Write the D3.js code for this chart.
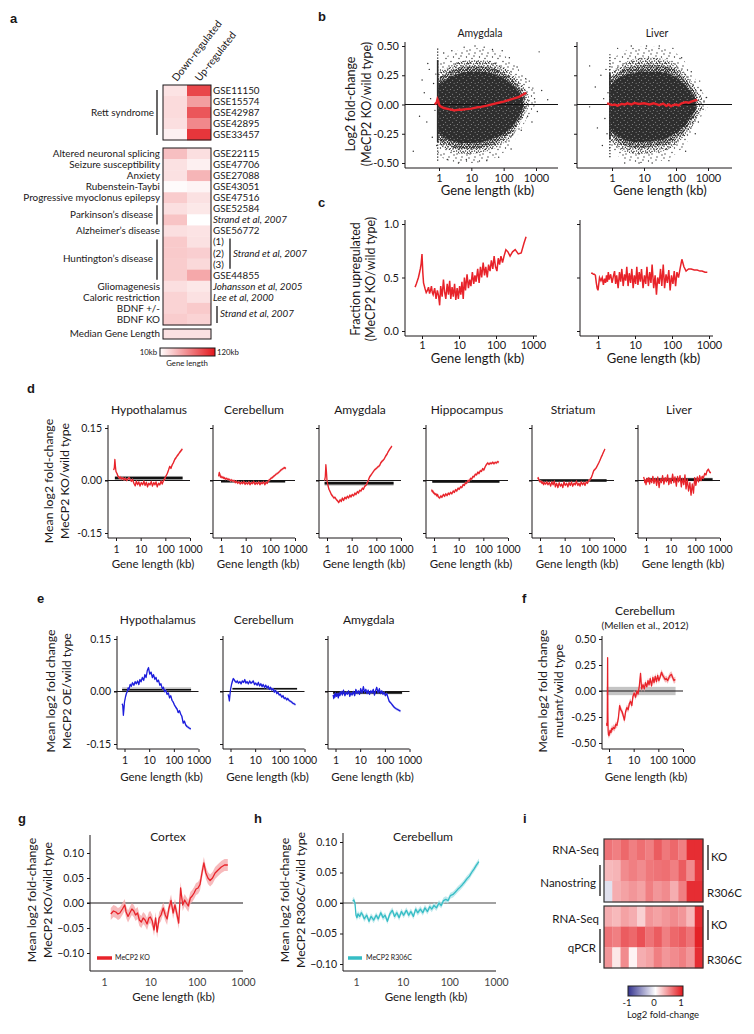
<!DOCTYPE html>
<html><head><meta charset="utf-8"><title>MeCP2 gene length effects</title>
<script src="https://cdn.jsdelivr.net/npm/d3@7"></script>
<style>html,body{margin:0;padding:0;background:#fff;}svg{display:block}</style>
</head><body><script>
// ================= DATA =================
// --- panel a ---
const aRettIds = ["GSE11150","GSE15574","GSE42987","GSE42895","GSE33457"];
const aRettDown = [23,27,27,25,17];
const aRettUp = [97,56,90,66,105];
const aRightLabels = ["GSE22115","GSE47706","GSE27088","GSE43051","GSE47516","GSE52584","Strand et al, 2007","GSE56772","(1)","(2)","(3)","GSE44855","Johansson et al, 2005","Lee et al, 2000","",""];
const aLeftLabels = ["Altered neuronal splicing","Seizure susceptibility","Anxiety","Rubenstein-Taybi","Progressive myoclonus epilepsy","","","Alzheimer\u2019s disease","","","","","Gliomagenesis","Caloric restriction","BDNF +/-","BDNF KO"];
const aDown = [40,24,24,12,34,25,38,25,35,35,34,34,25,31,31,34];
const aUp = [25,17,45,15,24,21,10,23,24,33,28,51,21,24,35,31];
const aMedian = 24;
// --- panel b (scatter density envelopes) ---
const bAmyCore = {x:[0.95,1.2,1.6,2,3,5,10,20,50,100,200,300,400], hi:[0.16,0.19,0.21,0.23,0.25,0.27,0.28,0.28,0.26,0.22,0.16,0.1,0.05], lo:[-0.24,-0.27,-0.29,-0.3,-0.32,-0.33,-0.33,-0.32,-0.29,-0.25,-0.18,-0.1,-0.03]};
const bAmyInner = {x:[0.94,1.2,2,3,5,10,20,50,100,200,300,450], hi:[0.21,0.24,0.28,0.3,0.32,0.33,0.33,0.31,0.27,0.21,0.15,0.07], lo:[-0.29,-0.32,-0.35,-0.37,-0.38,-0.38,-0.37,-0.34,-0.29,-0.22,-0.14,-0.04]};
const bAmyMid = {x:[0.93,1.2,2,3,5,10,20,50,100,200,300,500,600], hi:[0.26,0.29,0.32,0.35,0.37,0.38,0.38,0.36,0.32,0.26,0.2,0.12,0.08], lo:[-0.33,-0.36,-0.39,-0.41,-0.42,-0.42,-0.41,-0.38,-0.33,-0.26,-0.18,-0.06,-0.02]};
const bAmyFringe = {x:[0.92,1.2,2,3,5,10,20,50,100,200,400,700,1000], hi:[0.36,0.39,0.42,0.45,0.47,0.48,0.48,0.46,0.42,0.36,0.25,0.17,0.1], lo:[-0.42,-0.45,-0.48,-0.49,-0.5,-0.5,-0.49,-0.46,-0.41,-0.32,-0.18,-0.06,0.0]};
const bAmyStripe = {x:0.91, dense:[-0.32,0.38], sparse:[-0.48,0.48]};
const bAmyOut = [[0.16,-0.4],[0.3,0.21],[0.35,0.1],[0.42,-0.15],[0.5,0.3],[0.55,0.05],[0.62,-0.28],[0.68,0.18],[0.75,-0.05],[0.8,0.26],[0.85,-0.35],[1.4,0.44],[1.8,-0.47],[2.5,0.46],[4,-0.5],[6,0.49],[7,-0.47],[13,0.5],[16,-0.49],[25,0.49],[30,-0.48],[45,0.47],[70,-0.45],[90,0.46],[150,0.4],[170,-0.38],[260,0.32],[350,-0.22],[480,0.22],[550,-0.1],[800,0.14],[900,0.05],[1250,0.45],[1500,0.12],[2300,0.04],[1100,-0.06],[620,0.2],[750,-0.15],[0.25,-0.1],[0.45,0.35]];
const bLivCore = {x:[0.9,1.2,2,3,5,10,20,50,100,200,300,400], hi:[0.16,0.2,0.24,0.26,0.27,0.28,0.28,0.27,0.23,0.16,0.1,0.05], lo:[-0.2,-0.25,-0.29,-0.31,-0.32,-0.32,-0.31,-0.29,-0.24,-0.17,-0.1,-0.05]};
const bLivInner = {x:[0.88,1.2,2,3,5,10,20,50,100,200,300,450], hi:[0.2,0.25,0.29,0.32,0.33,0.34,0.34,0.33,0.29,0.21,0.15,0.07], lo:[-0.25,-0.3,-0.34,-0.36,-0.37,-0.37,-0.36,-0.34,-0.29,-0.22,-0.15,-0.07]};
const bLivMid = {x:[0.85,1.2,2,3,5,10,20,50,100,200,300,500,650], hi:[0.25,0.3,0.34,0.37,0.39,0.4,0.4,0.38,0.34,0.26,0.2,0.1,0.06], lo:[-0.3,-0.35,-0.39,-0.41,-0.42,-0.42,-0.41,-0.39,-0.34,-0.26,-0.2,-0.1,-0.05]};
const bLivFringe = {x:[0.82,1.2,2,3,5,10,20,50,100,200,400,700,1000], hi:[0.33,0.4,0.44,0.47,0.49,0.5,0.5,0.48,0.44,0.36,0.22,0.1,0.02], lo:[-0.38,-0.42,-0.46,-0.48,-0.5,-0.5,-0.49,-0.47,-0.42,-0.34,-0.2,-0.08,-0.02]};
const bLivStripe = {x:0.86, dense:[-0.3,0.27], sparse:[-0.45,0.43]};
const bLivOut = [[0.2,0.33],[0.2,-0.02],[0.3,0.15],[0.35,-0.2],[0.45,0.25],[0.5,-0.35],[0.55,0.05],[0.6,-0.12],[0.65,0.3],[0.7,-0.25],[0.75,0.1],[1.5,0.48],[2.5,-0.5],[4,0.5],[7,-0.5],[12,0.5],[18,-0.5],[30,0.5],[60,-0.48],[80,0.48],[150,0.4],[200,-0.4],[300,0.28],[400,-0.25],[600,0.12],[700,-0.04],[750,0.03],[900,0.06],[500,-0.15],[550,0.2]];
const bAmyLen = [0.75,0.85,0.9,0.95,1.0,1.1,1.2,1.4,1.7,2,2.5,3,4,5,7,10,15,20,30,50,70,100,150,200,300,400,500];
const bAmyFit = [0.0,0.02,0.045,0.03,0.0,-0.015,-0.02,-0.03,-0.035,-0.04,-0.045,-0.05,-0.045,-0.045,-0.04,-0.035,-0.025,-0.02,-0.01,0.005,0.015,0.025,0.04,0.05,0.065,0.085,0.1];
const bLivLen = [0.7,0.8,0.9,1.0,1.2,1.5,2,2.5,3,4,5,7,10,15,20,30,40,50,60,70,80,100,120,150,200,250,300,400,460];
const bLivFit = [0.01,0.005,0.0,-0.005,0.0,-0.01,0.005,0.0,0.01,0.0,0.012,0.005,0.01,0.0,0.01,-0.005,0.008,-0.012,0.0,-0.015,-0.005,0.0,-0.008,0.01,0.02,0.015,0.025,0.035,0.04];
// --- panel c ---
const lenC = [0.65,0.7,0.75,0.8,0.85,0.9,0.95,1.0,1.05,1.1,1.2,1.3,1.4,1.5,1.6,1.7,1.8,1.9,2.0,2.2,2.4,2.6,2.8,3.0,3.2,3.5,3.8,4.1,4.4,4.8,5.2,5.6,6.0,6.5,7.0,7.6,8.2,8.9,9.6,10.4,11.2,12,13,14,15,16.5,18,19.5,21,23,25,27,29,32,35,38,41,45,49,53,58,63,69,75,82,89,97,106,115,125,136,150,165,185,210,240,280,330,400,480,570,650];
const cLeft = [0.41,0.44,0.47,0.5,0.54, 0.58,0.63,0.72,0.55,0.45, 0.4,0.36,0.38,0.41,0.35, 0.38,0.42,0.36,0.34,0.4, 0.3,0.38,0.33,0.24,0.42, 0.32,0.48,0.36,0.3,0.44, 0.34,0.47,0.3,0.41,0.32, 0.44,0.29,0.4,0.3,0.42, 0.34,0.46,0.3,0.5,0.38, 0.53,0.4,0.48,0.42,0.55, 0.44,0.52,0.46,0.58,0.45, 0.6,0.5,0.64,0.52,0.6, 0.5,0.62,0.56,0.66,0.58, 0.7,0.6,0.56,0.68,0.62, 0.7,0.64,0.7,0.76,0.74, 0.7,0.74,0.76,0.72,0.73, 0.82,0.88];
const lenCR = [0.65,0.7,0.75,0.8,0.85,0.9,0.95,1.0,1.05,1.1,1.2,1.3,1.4,1.5,1.6,1.7,1.8,1.9,2.0,2.2,2.4,2.6,2.8,3.0,3.2,3.5,3.8,4.1,4.4,4.8,5.2,5.6,6.0,6.5,7.0,7.6,8.2,8.9,9.6,10.4,11.2,12,13,14,15,16.5,18,19.5,21,23,25,27,29,32,35,38,41,45,49,53,58,63,69,75,82,89,97,106,115,125,136,150,165,185,210,240,280,330,400,480,570,650,780,900];
const cRight = [0.54,0.54,0.53,0.53,0.52, 0.45,0.4,0.38,0.44,0.5, 0.47,0.5,0.43,0.49,0.45, 0.52,0.46,0.55,0.48,0.53, 0.45,0.51,0.56,0.44,0.52, 0.4,0.55,0.46,0.58,0.42, 0.53,0.47,0.6,0.42,0.54, 0.45,0.58,0.4,0.52,0.44, 0.6,0.43,0.55,0.46,0.58, 0.4,0.52,0.44,0.6,0.42, 0.55,0.45,0.62,0.4,0.52, 0.34,0.5,0.44,0.58,0.42, 0.62,0.4,0.53,0.45,0.57, 0.38,0.52,0.44,0.56,0.42, 0.55,0.5,0.58,0.67,0.6, 0.56,0.58,0.58,0.57,0.57, 0.56,0.56,0.55,0.55];
// --- panel d (MeCP2 KO) ---
const lenD = [0.8,0.85,0.9,0.95,1.0,1.1,1.2,1.3,1.4,1.5,1.7,1.9,2.1,2.4,2.7,3,3.4,3.8,4.2,4.7,5.3,6,6.7,7.5,8.4,9.4,10.5,12,13.5,15,17,19,21,24,27,30,34,38,42,47,53,60,67,75,84,94,105,120,135,150,170,190,210,240,270,300,340,380,430,490];
const dTitles = ["Hypothalamus","Cerebellum","Amygdala","Hippocampus","Striatum","Liver"];
const dHypo = [0.03,0.035,0.06,0.04,0.025, 0.02,0.012,0.01,0.006,0.01, 0.004,0.008,0.002,0.006,0.0, 0.004,0.008,0.002,-0.002,0.003, -0.008,-0.015,-0.002,-0.012,-0.004, -0.016,-0.006,-0.012,-0.002,-0.014, -0.005,-0.018,-0.008,-0.012,-0.003, -0.016,-0.006,-0.012,-0.004,-0.018, -0.008,-0.012,-0.002,-0.01,0.0, 0.004,0.012,0.02,0.03,0.04, 0.035,0.045,0.05,0.06,0.065, 0.07,0.075,0.08,0.085,0.09];
const dCere = [0.012,0.023,0.018,0.01,0.012, 0.008,0.01,0.006,0.008,0.004, 0.006,0.003,0.004,0.0,0.002, -0.002,0.0,-0.006,-0.002,-0.008, -0.004,-0.01,-0.005,-0.009,-0.003, -0.011,-0.006,-0.01,-0.004,-0.012, -0.006,-0.009,-0.003,-0.011,-0.006, -0.01,-0.004,-0.012,-0.006,-0.009, -0.004,-0.012,-0.005,-0.008,0.0, 0.002,0.006,0.008,0.012,0.014, 0.018,0.02,0.022,0.026,0.03, 0.032,0.035,0.037,0.034,null];
const dAmy = [0.0,0.01,0.045,0.025,0.0, -0.015,-0.025,-0.03,-0.035,-0.04, -0.045,-0.05,-0.048,-0.055,-0.058, -0.063,-0.055,-0.06,-0.05,-0.057, -0.048,-0.052,-0.045,-0.05,-0.042, -0.047,-0.04,-0.044,-0.036,-0.04, -0.032,-0.036,-0.028,-0.03,-0.022, -0.025,-0.016,-0.014,-0.008,0.0, 0.01,0.015,0.02,0.025,0.03, 0.033,0.036,0.04,0.042,0.05, 0.055,0.058,0.062,0.07,0.075, 0.082,0.088,0.093,0.098,null];
const dHippo = [-0.026,-0.032,-0.03,-0.036,-0.035, -0.04,-0.038,-0.044,-0.04,-0.047, -0.05,-0.044,-0.048,-0.04,-0.045, -0.038,-0.043,-0.036,-0.04,-0.034, -0.038,-0.03,-0.034,-0.026,-0.03, -0.022,-0.025,-0.018,-0.02,-0.012, -0.014,-0.006,-0.008,0.0,-0.002, 0.006,0.004,0.012,0.01,0.018, 0.016,0.024,0.02,0.028,0.026, 0.034,0.03,0.04,0.046,0.05, 0.046,0.05,0.048,0.052,0.048, 0.052,0.05,0.054,0.052,null];
const dStri = [0.005,0.008,0.002,0.0,-0.004, -0.002,-0.008,-0.004,-0.012,-0.006, -0.01,-0.004,-0.012,-0.006,-0.016, -0.004,-0.012,-0.002,-0.018,-0.008, -0.02,-0.006,-0.016,-0.01,-0.02, -0.004,-0.014,-0.008,-0.018,-0.006, -0.014,-0.004,-0.016,-0.008,-0.012, -0.002,-0.014,-0.008,-0.016,-0.004, -0.012,-0.006,-0.014,-0.004,-0.008, 0.0,0.002,0.008,0.018,0.028, 0.032,0.036,0.042,0.05,0.058, 0.066,0.074,0.082,0.09,null];
const dLiver = [0.01,0.004,-0.006,0.002,-0.012, 0.006,-0.004,0.008,-0.01,0.004, -0.006,0.012,-0.008,0.006,-0.014, 0.01,-0.02,0.004,-0.006,0.014, -0.01,0.008,-0.004,0.016,-0.012, 0.006,-0.008,0.018,-0.006,0.01, -0.016,0.012,-0.004,0.014,-0.018, 0.006,-0.012,0.016,-0.024,0.004, -0.03,-0.006,-0.042,-0.01,-0.036, 0.008,-0.014,0.01,-0.004,0.014, 0.0,0.012,0.006,0.02,0.016, 0.028,0.032,0.024,0.022,null];
const dNullFrom = [0.9,1.0,0.8,0.85,0.9,1.0];
const dNullTo = [500,400,500,450,500,500];
const dNullMean = [0.007,-0.002,-0.008,-0.003,0.0,0.003];
const dNullHalf = [0.006,0.003,0.007,0.003,0.004,0.005];
// --- panel e (MeCP2 OE) ---
const eTitles = ["Hypothalamus","Cerebellum","Amygdala"];
const eHypo = [-0.035,-0.04,-0.068,-0.05,-0.03, -0.015,-0.005,0.0,0.01,0.005, 0.02,0.015,0.025,0.018,0.028, 0.022,0.03,0.02,0.034,0.028, 0.04,0.032,0.048,0.04,0.06, 0.068,0.05,0.055,0.04,0.048, 0.035,0.04,0.028,0.032,0.018, 0.022,0.008,0.012,0.0,0.004, -0.008,-0.004,-0.018,-0.012,-0.025, -0.03,-0.038,-0.045,-0.05,-0.06, -0.055,-0.065,-0.07,-0.09,-0.085, -0.095,-0.1,-0.102,-0.105,-0.107];
const eCere = [-0.008,-0.015,-0.027,-0.01,0.005, 0.02,0.03,0.037,0.034,0.03, 0.026,0.03,0.024,0.028,0.022, 0.03,0.026,0.034,0.024,0.028, 0.022,0.03,0.024,0.026,0.03, 0.02,0.024,0.018,0.026,0.016, 0.022,0.014,0.02,0.012,0.018, 0.01,0.015,0.006,0.012,0.004, 0.008,-0.002,0.004,-0.006,-0.002, -0.01,-0.008,-0.016,-0.012,-0.02, -0.018,-0.024,-0.02,-0.026,-0.028, -0.03,-0.034,-0.035,-0.038,null];
const eAmy = [-0.01,-0.02,-0.008,-0.016,-0.004, -0.014,-0.006,-0.018,-0.004,-0.012, 0.0,-0.01,0.004,-0.012,-0.002, -0.008,0.002,-0.014,-0.004,-0.01, 0.0,-0.012,0.006,-0.006,0.002, -0.008,0.008,-0.004,0.014,-0.002, 0.006,-0.006,0.004,-0.008,0.002, -0.004,0.006,-0.01,0.002,0.012, -0.004,0.008,-0.006,0.002,-0.008, -0.002,-0.012,-0.006,-0.018,-0.028, -0.032,-0.036,-0.04,-0.045,-0.048, -0.05,-0.052,-0.054,-0.056,null];
const eNullFrom = [0.8,1.2,0.8];
const eNullTo = [500,500,500];
const eNullMean = [0.005,0.008,-0.004];
const eNullHalf = [0.007,0.003,0.004];
// --- panel f (Mellen et al.) ---
const lenF = [0.8,0.82,0.85,0.88,0.9,0.92,0.95,1.0,1.1,1.2,1.3,1.4,1.5,1.7,1.9,2.1,2.4,2.7,3,3.4,3.8,4.2,4.7,5.3,6,6.7,7.5,8.4,9.4,10.5,12,13.5,15,17,19,21,24,27,30,34,38,42,47,53,60,67,75,84,94,105,120,135,150,170,190,210,240,270,300,340,380,430,490];
const fVals = [-0.31,-0.33,-0.3,0.32,-0.2, -0.38,-0.42,-0.43,-0.38,-0.4, -0.36,-0.37,-0.35,-0.36,-0.32, -0.33,-0.26,-0.14,-0.18,-0.2, -0.24,-0.28,-0.2,-0.16,-0.18, -0.12,-0.1,-0.14,-0.05,-0.02, -0.06,0.0,-0.03,0.05,0.17, 0.02,0.06,0.02,0.08,0.04, 0.1,0.06,0.12,0.05,0.13, 0.08,0.14,0.09,0.15,0.1, 0.14,0.18,0.15,0.13,0.11, 0.12,0.1,0.13,0.15,0.16, 0.13,0.1,0.11];
// --- panel g (cortex KO) ---
const lenG = [1.4,1.6,1.8,2,2.2,2.5,2.8,3,3.3,3.6,4,4.4,4.8,5.3,5.8,6.4,7,7.7,8.5,9.3,10,11,12,13,14,15.5,17,19,21,23,25,28,31,34,37,41,45,50,55,60,66,73,80,88,97,107,118,130,143,158,175,195,220,250,290,340,400,470];
const gVals = [-0.022,-0.016,-0.018,-0.022,-0.02, -0.012,-0.004,-0.018,-0.027,-0.02, -0.012,-0.016,-0.024,-0.02,-0.034, -0.038,-0.03,-0.034,-0.042,-0.03, -0.028,-0.036,-0.054,-0.03,-0.058, -0.03,-0.024,-0.01,-0.024,-0.032, -0.012,0.005,-0.02,-0.004,-0.02, -0.04,0.03,-0.004,0.006,0.0, -0.006,0.01,0.014,0.02,0.028, 0.03,0.037,0.06,0.08,0.06, 0.05,0.045,0.05,0.06,0.066, 0.072,0.076,0.076];
// --- panel h (cerebellum R306C) ---
const lenH = [0.85,0.9,0.95,1.0,1.05,1.1,1.2,1.3,1.4,1.5,1.7,1.9,2.1,2.4,2.7,3,3.4,3.8,4.2,4.7,5.3,6,6.7,7.5,8.4,9.4,10.5,12,13.5,15,17,19,21,24,27,30,34,38,42,47,53,60,67,75,84,94,105,120,135,150,170,190,210,240,270,300,340,380,430];
const hVals = [0.003,0.005,0.0,-0.02,-0.024, -0.018,-0.022,-0.016,-0.02,-0.026, -0.02,-0.03,-0.022,-0.028,-0.02, -0.026,-0.016,-0.024,-0.02,-0.03, -0.018,-0.012,-0.022,-0.016,-0.024, -0.014,-0.02,-0.012,-0.02,-0.014, -0.022,-0.01,-0.016,-0.01,-0.016, -0.008,-0.014,-0.006,-0.01,-0.004, -0.008,0.0,-0.004,0.004,0.006, 0.004,0.012,0.014,0.018,0.022, 0.026,0.03,0.034,0.04,0.044, 0.05,0.056,0.062,0.068];
// confidence half-widths
const ciD = 0.004, ciF = 0.03, ciG = 0.012, ciH = 0.005;
// --- panel i ---
const iTopRows = ["RNA-Seq KO","Nanostring KO","Nanostring R306C"];
const iTop = [[0.6,0.55,0.65,0.55,0.62,0.55,0.7,0.58,0.65,0.55,0.9,0.9],[0.3,0.32,0.5,0.55,0.5,0.58,0.6,0.62,0.55,0.7,0.5,0.85],[-0.15,0.35,0.4,0.45,0.4,0.55,0.45,0.5,0.35,0.55,0.9,0.9]];
const iBotRows = ["RNA-Seq KO","qPCR KO","qPCR R306C"];
const iBot = [[0.35,0.3,0.4,0.35,0.2,0.45,0.4,0.45,0.5,0.45,0.3,0.9],[0.6,0.55,0.7,0.65,0.75,0.6,0.7,0.55,0.65,0.7,0.6,0.95],[0.45,0.1,0.5,0.05,0.35,0.4,0.55,0.45,0.5,0.55,0.45,0.9]];
const xTickKb = [1,10,100,1000];

// ================= DRAWING =================
const W=754,H=1034, INK="#1a1718", FONT="Lato, 'Open Sans', sans-serif", BOLDF="'Liberation Sans', Arial, sans-serif";
const RED="#e8232a", PINK="#f5a9ab", BLUE="#1c1cdc", LBLUE="#b3b6f2", CYAN="#35bdc5", LCYAN="#b0e4e8", GRAY="#c4c4c4";
const svg=d3.select("body").append("svg").attr("width",W).attr("height",H).attr("font-family",FONT);
const defs=svg.append("defs");

function T(x,y,s,o={}){
  const t=svg.append("text").attr("x",x).attr("y",y).text(s).attr("font-size",o.fs||10).attr("fill",o.fill||INK);
  if(o.anchor) t.attr("text-anchor",o.anchor);
  if(o.weight) t.attr("font-weight",o.weight);
  if(o.italic) t.attr("font-style","italic");
  if(o.family) t.attr("font-family",o.family);
  if(o.dy) t.attr("dy",o.dy);
  if(o.rot!=null) t.attr("transform",`rotate(${o.rot},${x},${y})`);
  return t;
}
function V(x,y1,y2,w=1.3){svg.append("line").attr("x1",x).attr("x2",x).attr("y1",y1).attr("y2",y2).attr("stroke",INK).attr("stroke-width",w);}
function PL(s,x,y){T(x,y,s,{fs:13,weight:"bold",family:BOLDF});}
function yLab(x,cy,s,fs){T(x,cy,s,{fs:fs,anchor:"middle",rot:-90});}
const zip=(xs,ys)=>xs.map((v,i)=>[v,ys[i]]);

function frame(o){
  const gy=svg.append("g").attr("transform",`translate(${o.yx},0)`)
    .call(d3.axisLeft(o.y).tickValues(o.yTicks).tickSize(3).tickPadding(o.yPad||3).tickFormat(o.yLabels?o.yFmt:()=>""));
  gy.select(".domain").remove();
  gy.attr("font-family",FONT).attr("font-size",o.yfs||10.5).attr("color",INK);
  gy.selectAll("text").attr("fill",INK);
  const gx=svg.append("g").attr("transform",`translate(0,${o.axisY})`)
    .call(d3.axisBottom(o.x).tickValues(xTickKb).tickSize(o.xTick==null?3:o.xTick).tickPadding(o.xPad||4).tickFormat(d3.format("d")));
  gx.select(".domain").remove();
  gx.attr("font-family",FONT).attr("font-size",o.xfs||10.5).attr("color",INK);
  gx.selectAll("text").attr("fill",o.xcol||INK);
  svg.append("path").attr("d",`M${o.yx},${o.axisTop}V${o.axisY}H${o.xEnd}`).attr("fill","none").attr("stroke",INK).attr("stroke-width",1);
  if(o.xlab) T((o.x(1)+o.x(1000))/2+(o.xlabShift||0), o.xlabY, "Gene length (kb)", {fs:o.xlabfs||11.5, anchor:"middle"});
  if(o.title) T(o.titleX!=null?o.titleX:(o.yx+o.x(1000))/2, o.titleY, o.title, {fs:o.titlefs||12, anchor:"middle"});
}
function lineOf(x,y){return d3.line().defined(d=>d[1]!=null).x(d=>x(d[0])).y(d=>y(d[1]));}
function bandOf(x,y,h){return d3.area().defined(d=>d[1]!=null).x(d=>x(d[0])).y0(d=>y(d[1]-h)).y1(d=>y(d[1]+h));}

// ---------------- panel a ----------------
PL("a",10,23);
const aColor=d3.scaleLinear().domain([10,120]).range(["#ffffff","#e3161c"]).clamp(true);
const aCol=d3.scaleBand().domain(["down","up"]).range([163,211]);
const aRow1=d3.scaleBand().domain(aRettIds).range([85,140]);
const aRow2=d3.scaleBand().domain(d3.range(16)).range([148,325]);
T(177,82,"Down-regulated",{fs:10.3,rot:-52});
T(200,82,"Up-regulated",{fs:10.3,rot:-52});
const r1=svg.append("g");
aRettIds.forEach((id,i)=>{
  r1.append("rect").attr("x",aCol("down")).attr("y",aRow1(id)).attr("width",aCol.bandwidth()).attr("height",aRow1.bandwidth()+0.3).attr("fill",aColor(aRettDown[i]));
  r1.append("rect").attr("x",aCol("up")).attr("y",aRow1(id)).attr("width",aCol.bandwidth()).attr("height",aRow1.bandwidth()+0.3).attr("fill",aColor(aRettUp[i]));
  T(213,aRow1(id)+aRow1.bandwidth()/2,id,{fs:9.8,dy:"0.35em"});
});
svg.append("rect").attr("x",163).attr("y",85).attr("width",48).attr("height",55).attr("fill","none").attr("stroke",INK).attr("stroke-width",1);
T(154,aRow1("GSE42987")+aRow1.bandwidth()/2,"Rett syndrome",{fs:9.9,anchor:"end",dy:"0.35em"});
V(157,90,135);
const r2=svg.append("g");
d3.range(16).forEach(i=>{
  r2.append("rect").attr("x",aCol("down")).attr("y",aRow2(i)).attr("width",aCol.bandwidth()).attr("height",aRow2.bandwidth()+0.3).attr("fill",aColor(aDown[i]));
  r2.append("rect").attr("x",aCol("up")).attr("y",aRow2(i)).attr("width",aCol.bandwidth()).attr("height",aRow2.bandwidth()+0.3).attr("fill",aColor(aUp[i]));
  const cy=aRow2(i)+aRow2.bandwidth()/2;
  const rl=aRightLabels[i];
  if(rl) T(213,cy,rl,{fs:9.8,dy:"0.35em",italic:!(rl.startsWith("GSE")||rl.startsWith("("))});
  if(aLeftLabels[i]) T(160,cy,aLeftLabels[i],{fs:9.9,anchor:"end",dy:"0.35em"});
});
svg.append("rect").attr("x",163).attr("y",148).attr("width",48).attr("height",177).attr("fill","none").attr("stroke",INK).attr("stroke-width",1);
const mid=(a,b)=>(aRow2(a)+aRow2(b)+aRow2.bandwidth())/2;
T(153,mid(5,6),"Parkinson\u2019s disease",{fs:9.9,anchor:"end",dy:"0.35em"}); V(157,aRow2(5)+2,aRow2(6)+aRow2.bandwidth()-1);
T(153,mid(8,11),"Huntington\u2019s disease",{fs:9.9,anchor:"end",dy:"0.35em"}); V(157,aRow2(8)+3,aRow2(11)+aRow2.bandwidth()-1);
V(230,aRow2(8)+2,aRow2(10)+aRow2.bandwidth()-1); T(233,mid(8,10),"Strand et al, 2007",{fs:9.8,italic:true,dy:"0.35em"});
V(217,aRow2(14)+3,aRow2(15)+aRow2.bandwidth()-2); T(220,mid(14,15),"Strand et al, 2007",{fs:9.8,italic:true,dy:"0.35em"});
svg.append("rect").attr("x",163).attr("y",329).attr("width",48).attr("height",10).attr("fill",aColor(aMedian)).attr("stroke",INK).attr("stroke-width",1);
T(160,334,"Median Gene Length",{fs:9.9,anchor:"end",dy:"0.35em"});
const ga=defs.append("linearGradient").attr("id","aGrad");
ga.append("stop").attr("offset","0%").attr("stop-color",aColor(10));
ga.append("stop").attr("offset","100%").attr("stop-color",aColor(120));
svg.append("rect").attr("x",160).attr("y",348).attr("width",55).attr("height",8).attr("fill","url(#aGrad)").attr("stroke",INK).attr("stroke-width",1);
T(157,352,"10kb",{fs:7.8,anchor:"end",dy:"0.35em"});
T(217,352,"120kb",{fs:7.8,dy:"0.35em"});
T(187,366,"Gene length",{fs:7.8,anchor:"middle"});

// ---------------- panel b ----------------
PL("b",318,21);
function pat(id,size,pts,r,bg,dot,op){const p=defs.append("pattern").attr("id",id).attr("patternUnits","userSpaceOnUse").attr("width",size).attr("height",size);
  if(bg) p.append("rect").attr("width",size).attr("height",size).attr("fill",bg);
  pts.forEach(q=>p.append("circle").attr("cx",q[0]).attr("cy",q[1]).attr("r",r).attr("fill",dot||"#2a2a2a").attr("opacity",op||1));}
pat("sparse",13,[[1,2],[7,1],[11.5,5],[4,6.5],[9,9.5],[2,11],[6,4],[12,12]],0.65);
pat("midpat",9,[[0.5,0.7],[3,0.2],[5.6,1],[8,0.4],[1.8,2.8],[4.4,3.2],[7,2.6],[0.3,4.6],[2.9,5],[5.8,4.6],[8.4,5.2],[1.4,7],[4,7.4],[6.6,7],[8.7,8.3],[2.6,8.7]],0.72);
pat("densepat",7,[[0.5,0.5],[2.6,0.9],[4.9,0.3],[6.4,1.8],[1.4,2.5],[3.8,2.8],[0.2,4.2],[2.5,4.6],[5.2,4],[6.7,5.6],[1.2,6.4],[3.9,6.3],[5.4,6.8]],0.85);
pat("corepat",7,[[1.2,1.5],[4.6,3.2],[2.4,5.6],[6.1,6.2]],0.5,"#2e2e2e","#ffffff",0.55);
function scatterPanel(o){
  const x=d3.scaleLog().domain([1,1000]).range([o.x1,o.x1000]);
  const y=d3.scaleLinear().domain([-0.5,0.5]).range([163,46]);
  const layer=(L,fill)=>svg.append("path").attr("d",d3.area().curve(d3.curveMonotoneX).x(d=>x(d[0])).y0(d=>y(d[2])).y1(d=>y(d[1]))(L.x.map((v,i)=>[v,L.hi[i],L.lo[i]]))).attr("fill",fill);
  layer(o.fringe,"url(#sparse)");
  layer(o.mid,"url(#midpat)");
  layer(o.inner,"url(#densepat)");
  layer(o.core,"url(#corepat)");
  svg.append("line").attr("x1",x(o.stripe.x)).attr("x2",x(o.stripe.x)).attr("y1",y(o.stripe.sparse[0])).attr("y2",y(o.stripe.sparse[1])).attr("stroke","#2a2a2a").attr("stroke-width",1.3).attr("stroke-dasharray","1.2,1.8");
  svg.append("line").attr("x1",x(o.stripe.x)).attr("x2",x(o.stripe.x)).attr("y1",y(o.stripe.dense[0])).attr("y2",y(o.stripe.dense[1])).attr("stroke","#2a2a2a").attr("stroke-width",1.6);
  svg.append("g").selectAll("circle").data(o.out).join("circle").attr("cx",d=>x(d[0])).attr("cy",d=>y(d[1])).attr("r",0.7).attr("fill","#2a2a2a");
  svg.append("line").attr("x1",o.yx).attr("x2",o.xEnd).attr("y1",y(0)).attr("y2",y(0)).attr("stroke","#111").attr("stroke-width",1.2);
  svg.append("path").attr("d",lineOf(x,y)(zip(o.len,o.fit))).attr("fill","none").attr("stroke",RED).attr("stroke-width",2.4);
  frame({x,y,yx:o.yx,axisTop:42,axisY:168,xEnd:o.xEnd,yTicks:[-0.5,-0.25,0,0.25,0.5],yFmt:d=>d3.format(".2f")(d).replace("\u2212","-"),yLabels:o.yLabels,yfs:11,xfs:11,xPad:3,
    xlab:true,xlabY:195,xlabfs:13,title:o.title,titleY:37,titleX:o.titleX,titlefs:10.5});
}
scatterPanel({x1:439,x1000:536,yx:405,xEnd:558,core:bAmyCore,inner:bAmyInner,mid:bAmyMid,fringe:bAmyFringe,stripe:bAmyStripe,out:bAmyOut,len:bAmyLen,fit:bAmyFit,yLabels:true,title:"Amygdala",titleX:480});
scatterPanel({x1:612,x1000:708,yx:577,xEnd:732,core:bLivCore,inner:bLivInner,mid:bLivMid,fringe:bLivFringe,stripe:bLivStripe,out:bLivOut,len:bLivLen,fit:bLivFit,yLabels:false,title:"Liver",titleX:657});
yLab(355,104,"Log2 fold-change",12.5);
yLab(371,104,"(MeCP2 KO/wild type)",12.5);

// ---------------- panel c ----------------
PL("c",318,207);
function fracPanel(o){
  const x=d3.scaleLog().domain([1,1000]).range([o.x1,o.x1000]);
  const y=d3.scaleLinear().domain([0,1]).range([331,224]);
  svg.append("path").attr("d",lineOf(x,y)(zip(o.len,o.vals))).attr("fill","none").attr("stroke",RED).attr("stroke-width",1.5);
  frame({x,y,yx:o.yx,axisTop:220,axisY:336,xEnd:o.xEnd,yTicks:[0,0.5,1],yFmt:d3.format(".1f"),yLabels:o.yLabels,yfs:11,xfs:11,xPad:2,xlab:true,xlabY:363,xlabfs:13});
}
fracPanel({x1:422,x1000:533,yx:405,xEnd:537,len:lenC,vals:cLeft,yLabels:true});
fracPanel({x1:598,x1000:709,yx:580,xEnd:713,len:lenCR,vals:cRight,yLabels:false});
yLab(360,279,"Fraction upregulated",12.5);
yLab(375,279,"(MeCP2 KO/wild type)",12.5);

// ---------------- panel d ----------------
PL("d",27,393);
const dSeries=[dHypo,dCere,dAmy,dHippo,dStri,dLiver];
const dYX=[108,213,319,426,532,638];
function meanPanel(o){
  const x=d3.scaleLog().domain([1,1000]).range([o.x1,o.x1000]);
  const y=d3.scaleLinear().domain(o.ydom).range(o.yr);
  svg.append("rect").attr("x",x(o.nFrom)).attr("width",x(o.nTo)-x(o.nFrom)).attr("y",y(o.nMean+o.nHalf)).attr("height",Math.max(1,y(o.nMean-o.nHalf)-y(o.nMean+o.nHalf))).attr("fill",GRAY);
  svg.append("line").attr("x1",o.yx-3).attr("x2",o.x1000).attr("y1",y(0)).attr("y2",y(0)).attr("stroke",o.zeroCol||INK).attr("stroke-width",1.1);
  if(o.nLine) svg.append("line").attr("x1",x(o.nFrom)).attr("x2",x(o.nTo)).attr("y1",y(o.nMean)).attr("y2",y(o.nMean)).attr("stroke","#111").attr("stroke-width",o.nLine);
  const data=zip(o.len,o.vals);
  svg.append("path").attr("d",bandOf(x,y,o.ci)(data)).attr("fill",o.band).attr("opacity",0.8);
  svg.append("path").attr("d",lineOf(x,y)(data)).attr("fill","none").attr("stroke",o.col).attr("stroke-width",o.lw||1.3).attr("stroke-linejoin","round");
  frame({x,y,yx:o.yx,axisTop:o.axisTop,axisY:o.axisY,xEnd:o.x1000,yTicks:o.yTicks,yFmt:o.yFmt,yLabels:o.yLabels,yfs:10.5,xfs:10.5,xPad:o.xPad,
    xTick:o.xTick,xcol:o.xcol,xlab:true,xlabY:o.xlabY,xlabfs:11.5,title:o.title,titleY:o.titleY,titleX:o.titleX,titlefs:12});
}
const fmtHy=d=>d3.format(".2f")(d).replace("\u2212","-");
dSeries.forEach((s,i)=>meanPanel({x1:dYX[i]+8,x1000:dYX[i]+82,yx:dYX[i],ydom:[-0.15,0.15],yr:[533,428],axisTop:425,axisY:538,
  len:lenD,vals:s,ci:ciD,col:RED,band:PINK,nFrom:dNullFrom[i],nTo:dNullTo[i],nMean:dNullMean[i],nHalf:dNullHalf[i],nLine:2.4,
  yTicks:[-0.15,0,0.15],yFmt:fmtHy,yLabels:i===0,xPad:5,xlabY:568,title:dTitles[i],titleY:414}));
yLab(53,481,"Mean log2 fold-change",12.3);
yLab(69,481,"MeCP2 KO/wild type",12.3);

// ---------------- panel e ----------------
PL("e",37,603);
const eSeries=[eHypo,eCere,eAmy];
const eYX=[117,223,328];
eSeries.forEach((s,i)=>meanPanel({x1:eYX[i]+7.5,x1000:eYX[i]+81.5,yx:eYX[i],ydom:[-0.15,0.15],yr:[744,639],axisTop:636,axisY:749,
  len:lenD,vals:s,ci:ciD,col:BLUE,band:LBLUE,nFrom:eNullFrom[i],nTo:eNullTo[i],nMean:eNullMean[i],nHalf:eNullHalf[i],nLine:1.6,
  yTicks:[-0.15,0,0.15],yFmt:fmtHy,yLabels:i===0,xPad:5,xlabY:781,title:eTitles[i],titleY:624}));
yLab(55,691,"Mean log2 fold change",12.3);
yLab(71,691,"MeCP2 OE/wild type",12.3);

// ---------------- panel f ----------------
PL("f",522,603);
meanPanel({x1:609,x1000:683,yx:602,ydom:[-0.5,0.5],yr:[743,639],axisTop:636,axisY:749,
  len:lenF,vals:fVals,ci:ciF,col:RED,band:PINK,nFrom:0.8,nTo:500,nMean:0,nHalf:0.04,nLine:0,
  yTicks:[-0.5,-0.25,0,0.25,0.5],yFmt:fmtHy,yLabels:true,xPad:5,xlabY:781,title:"Cerebellum",titleY:615,titleX:645});
T(645,629,"(Mellen et al., 2012)",{fs:10,anchor:"middle"});
yLab(547,691,"Mean log2 fold change",12.3);
yLab(563,691,"mutant/wild type",12.3);

// ---------------- panel g ----------------
PL("g",18,823);
meanPanel({x1:104,x1000:243,yx:90,ydom:[-0.1,0.1],yr:[953,853],axisTop:835,axisY:971,
  len:lenG,vals:gVals,ci:ciG,col:RED,band:PINK,nFrom:1,nTo:1,nMean:0,nHalf:0,nLine:0,lw:1.3,
  yTicks:[-0.1,-0.05,0,0.05,0.1],yFmt:d3.format(".2f"),yLabels:true,xTick:0,xPad:8,xcol:"#444",xlabY:1001,title:"Cortex",titleY:841,titleX:168});
svg.append("line").attr("x1",97).attr("x2",112).attr("y1",958).attr("y2",958).attr("stroke",RED).attr("stroke-width",3.5);
T(115,958,"MeCP2 KO",{fs:7,dy:"0.35em"});
yLab(36,900,"Mean log2 fold-change",12.3);
yLab(52,900,"MeCP2 KO/wild type",12.3);

// ---------------- panel h ----------------
PL("h",254,823);
meanPanel({x1:356,x1000:496,yx:343,ydom:[-0.1,0.1],yr:[964,842],axisTop:833,axisY:971,
  len:lenH,vals:hVals,ci:ciH,col:CYAN,band:LCYAN,nFrom:1,nTo:1,nMean:0,nHalf:0,nLine:0,lw:1.3,zeroCol:"#444",
  yTicks:[-0.1,-0.05,0,0.05,0.1],yFmt:d3.format(".2f"),yLabels:true,xTick:0,xPad:8,xcol:"#444",xlabY:1001,title:"Cerebellum",titleY:841,titleX:423});
svg.append("line").attr("x1",348).attr("x2",362).attr("y1",958).attr("y2",958).attr("stroke",CYAN).attr("stroke-width",3.5);
T(366,958,"MeCP2 R306C",{fs:7,dy:"0.35em"});
yLab(289,900,"Mean log2 fold-change",12.3);
yLab(305,900,"MeCP2 R306C/wild type",12.3);

// ---------------- panel i ----------------
PL("i",523,823);
const iColor=d3.scaleLinear().domain([-1,0,1]).range(["#34348f","#ffffff","#e3161c"]).clamp(true);
const iCol=d3.scaleBand().domain(d3.range(12)).range([604,703]);
function iBlock(rows,vals,y0,y1){
  const r=d3.scaleBand().domain(rows).range([y0,y1]);
  const g=svg.append("g");
  rows.forEach((rn,ri)=>vals[ri].forEach((v,ci)=>g.append("rect").attr("x",iCol(ci)).attr("y",r(rn)).attr("width",iCol.bandwidth()+0.3).attr("height",r.bandwidth()+0.3).attr("fill",iColor(v))));
  svg.append("rect").attr("x",604).attr("y",y0).attr("width",99).attr("height",y1-y0).attr("fill","none").attr("stroke","#333").attr("stroke-width",1.2);
  return r;
}
iBlock(iTopRows,iTop,839,902);
iBlock(iBotRows,iBot,906,968);
T(599,850,"RNA-Seq",{fs:11.5,anchor:"end",dy:"0.35em"});
T(596,883,"Nanostring",{fs:11.5,anchor:"end",dy:"0.35em"}); V(600,865,896);
T(711,857,"KO",{fs:11.5,dy:"0.35em"}); V(708,845,870);
T(707,893,"R306C",{fs:11.5,dy:"0.35em"});
T(599,919,"RNA-Seq",{fs:11.5,anchor:"end",dy:"0.35em"});
T(596,948,"qPCR",{fs:11.5,anchor:"end",dy:"0.35em"}); V(600,929,963);
T(711,925,"KO",{fs:11.5,dy:"0.35em"}); V(708,910,940);
T(707,960,"R306C",{fs:11.5,dy:"0.35em"});
const gi=defs.append("linearGradient").attr("id","iGrad");
[[0,-1],[50,0],[100,1]].forEach(s=>gi.append("stop").attr("offset",s[0]+"%").attr("stop-color",iColor(s[1])));
svg.append("rect").attr("x",628).attr("y",986).attr("width",55).attr("height",10).attr("fill","url(#iGrad)").attr("stroke","#222").attr("stroke-width",1);
T(627,1006,"-1",{fs:9.5,anchor:"middle"});
T(654,1006,"0",{fs:9.5,anchor:"middle"});
T(681,1006,"1",{fs:9.5,anchor:"middle"});
T(663,1018,"Log2 fold-change",{fs:9.5,anchor:"middle"});
</script></body></html>
